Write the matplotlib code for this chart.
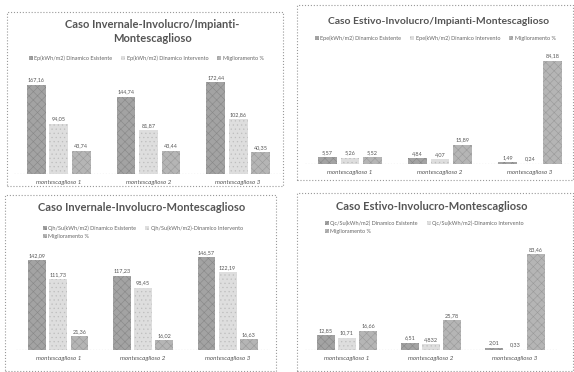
import matplotlib
matplotlib.use('Agg')
from matplotlib import pyplot as plt
from matplotlib.patches import Rectangle

W, H = 574, 372

CATEGORIES = ['montescaglioso 1', 'montescaglioso 2', 'montescaglioso 3']

# Caso Invernale - Involucro/Impianti
inv_imp_esistente = [167.16, 144.74, 172.44]
inv_imp_intervento = [94.05, 81.87, 102.86]
inv_imp_migl = [43.74, 43.44, 40.35]

# Caso Estivo - Involucro/Impianti
est_imp_esistente = [5.57, 4.84, 1.49]
est_imp_intervento = [5.26, 4.07, 0.24]
est_imp_migl = [5.52, 15.89, 84.18]

# Caso Invernale - Involucro
inv_inv_esistente = [142.09, 117.23, 146.57]
inv_inv_intervento = [111.73, 98.45, 122.19]
inv_inv_migl = [21.36, 16.02, 16.63]

# Caso Estivo - Involucro
est_inv_esistente = [12.85, 6.51, 2.01]
est_inv_intervento = [10.71, 4.832, 0.33]
est_inv_migl = [16.66, 25.78, 83.46]

COLORS = ['#a3a3a3', '#dedede', '#b5b5b5']
HATCH_COLORS = ['#888888', '#bdbdbd', '#999999']
HATCHES = ['xxxx', '....', 'xxxx']
TEXT = '#555555'

plt.rcParams['font.family'] = ['Lato', 'DejaVu Sans']
plt.rcParams['hatch.linewidth'] = 0.4


def fx(x):
    return x / W


def fy(y):
    return 1 - y / H


def draw_panel(fig, box, ax_px, ymax, title_lines, title_xy, title_size,
               labels, leg_xy, two_rows, series):
    # dotted frame of the chart
    bx0, by0, bx1, by1 = box
    fig.patches.append(Rectangle((fx(bx0), fy(by1)), fx(bx1 - bx0), (by1 - by0) / H,
                                 transform=fig.transFigure, fill=False,
                                 ls=':', lw=0.8, ec='#999999'))
    left, top, width, base = ax_px
    ax = fig.add_axes([fx(left), fy(base), fx(width), (base - top) / H])
    handles = []
    for i, vals in enumerate(series):
        xs = [k + (i - 1) * 0.25 for k in range(len(vals))]
        b = ax.bar(xs, vals, width=0.21, color=COLORS[i], edgecolor=HATCH_COLORS[i],
                   hatch=HATCHES[i], lw=0)
        handles.append(b)
        for x, v in zip(xs, vals):
            ax.text(x, v + ymax * 0.02, str(v).replace('.', ','), ha='center',
                    va='bottom', fontsize=4, color=TEXT)
    ax.set_xlim(-0.5, 2.5)
    ax.set_ylim(0, ymax)
    ax.axhline(0, ls=':', lw=0.8, color='#888888')
    for s in ax.spines.values():
        s.set_visible(False)
    ax.set_yticks([])
    ax.set_xticks(range(len(CATEGORIES)))
    ax.set_xticklabels(CATEGORIES, fontsize=4.5, color=TEXT, style='italic')
    ax.tick_params(axis='x', length=0, pad=4)

    tx, ty = title_xy
    for j, line in enumerate(title_lines):
        fig.text(fx(tx), fy(ty + j * 13), line, ha='center', va='center',
                 fontsize=title_size, fontweight='bold', color=TEXT)

    if two_rows:
        h = [handles[0], handles[2], handles[1]]
        l = [labels[0], labels[2], labels[1]]
        ncol = 2
    else:
        h, l, ncol = handles, labels, 3
    fig.legend(h, l, loc='upper left', bbox_to_anchor=(fx(leg_xy[0]), fy(leg_xy[1])),
               ncol=ncol, fontsize=4, frameon=False, handlelength=0.7,
               handleheight=0.7, handletextpad=0.3, columnspacing=1.6,
               labelspacing=0.4, borderpad=0, labelcolor='#666666')


fig = plt.figure(figsize=(W / 100, H / 100), dpi=100, facecolor='w')

draw_panel(fig, (7, 12, 283, 186), (14, 62, 269, 174), 210,
           ['Caso Invernale-Involucro/Impianti-', 'Montescaglioso'], (152, 25), 8,
           ['Ep(kWh/m2) Dinamico Esistente', 'Ep(kWh/m2) Dinamico Intervento',
            'Miglioramento %'], (26, 53), False,
           [inv_imp_esistente, inv_imp_intervento, inv_imp_migl])

draw_panel(fig, (297, 5, 573, 180), (305, 50, 270, 164), 93,
           ['Caso Estivo-Involucro/Impianti-Montescaglioso'], (439, 22), 7.5,
           ['Epe(kWh/m2) Dinamico Esistente', 'Epe(kWh/m2) Dinamico Intervento',
            'Miglioramento %'], (312, 33), False,
           [est_imp_esistente, est_imp_intervento, est_imp_migl])

draw_panel(fig, (5, 195, 276, 371), (16, 245, 254, 350), 165.5,
           ['Caso Invernale-Involucro-Montescaglioso'], (142, 208), 8,
           ['Qh/Su(kWh/m2) Dinamico Esistente', 'Qh/Su(kWh/m2)-Dinamico Intervento',
            'Miglioramento %'], (40, 223), True,
           [inv_inv_esistente, inv_inv_intervento, inv_inv_migl])

draw_panel(fig, (297, 193, 573, 371), (305, 240, 252, 350), 95.6,
           ['Caso Estivo-Involucro-Montescaglioso'], (432, 207), 8,
           ['Qc/Su(kWh/m2) Dinamico Esistente', 'Qc/Su(kWh/m2)-Dinamico Intervento',
            'Miglioramento %'], (322, 218), True,
           [est_inv_esistente, est_inv_intervento, est_inv_migl])

fig.savefig('out.png', dpi=100, facecolor='w')
